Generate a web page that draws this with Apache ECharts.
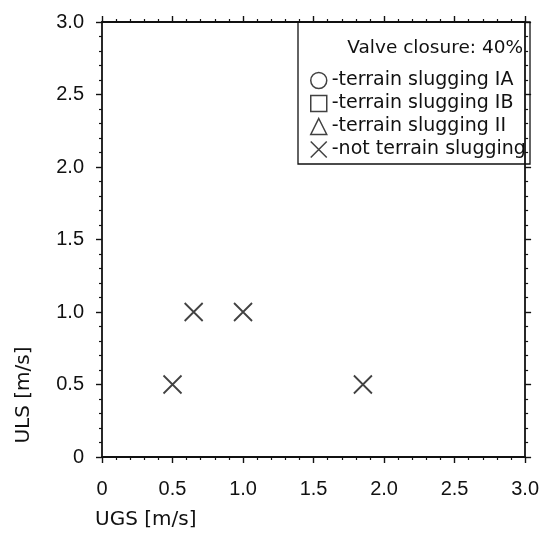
<!DOCTYPE html>
<html>
<head>
<meta charset="utf-8">
<script src="https://cdn.jsdelivr.net/npm/echarts@6/dist/echarts.min.js"></script>
<style>
  html, body { margin: 0; padding: 0; background: #fff; }
  #chart { width: 542px; height: 541px; }
</style>
</head>
<body>
<div id="chart"></div>
<script>
// === DATA ===
const ugsValues = [0.5, 0.65, 1.0, 1.85];
const ulsValues = [0.5, 1.0, 1.0, 0.5];
const xTickLabels = ['0', '0.5', '1.0', '1.5', '2.0', '2.5', '3.0'];
const yTickLabels = ['0', '0.5', '1.0', '1.5', '2.0', '2.5', '3.0'];
const legendNames = [
    '-terrain slugging IA',
    '-terrain slugging IB',
    '-terrain slugging II',
    '-not terrain slugging'
];

// === STYLE ===
const ink = '#111';
const font = 'Liberation Sans';
const wideFont = 'DejaVu Sans';
const crossPath = 'path://M0,0L10,10M0,10L10,0';
const hollow = { color: 'transparent', borderColor: ink, borderWidth: 1.5 };

// === HELPERS ===
function tickLabel(list) {
    return v => list[Math.round(v / 0.5)] || '';
}

function axisBase(position, labels) {
    return {
        type: 'value',
        position: position,
        min: 0,
        max: 3,
        interval: 0.5,
        axisLine: { show: true, onZero: false, lineStyle: { color: ink, width: 1.8 } },
        axisTick: { show: true, inside: false, length: 6, lineStyle: { color: ink, width: 1.4 } },
        minorTick: { show: true, splitNumber: 5, length: 3, lineStyle: { color: ink, width: 1.2 } },
        splitLine: { show: false },
        axisLabel: labels ? {
            show: true,
            formatter: tickLabel(labels),
            fontFamily: font,
            fontSize: 20,
            color: ink
        } : { show: false }
    };
}

// === RENDER ===
const chart = echarts.init(document.getElementById('chart'));

const xBottom = axisBase('bottom', xTickLabels);
xBottom.axisLabel.margin = 22;
xBottom.name = 'UGS [m/s]';
xBottom.nameLocation = 'start';
xBottom.nameGap = 7;
xBottom.nameTextStyle = {
    fontFamily: wideFont, fontSize: 20, color: ink,
    align: 'left', verticalAlign: 'top', padding: [53, 0, 0, 0]
};

const yLeft = axisBase('left', yTickLabels);
yLeft.axisLabel.margin = 18;
yLeft.name = 'ULS [m/s]';
yLeft.nameLocation = 'middle';
yLeft.nameGap = 68;
yLeft.nameTextStyle = {
    fontFamily: wideFont, fontSize: 20, color: ink,
    padding: [0, 311, 0, 0]
};

const emptySymbols = ['circle', 'rect', 'triangle'];

const option = {
    animation: false,
    backgroundColor: '#fff',
    grid: { left: 102, right: 12, top: 22, bottom: 84 },
    title: {
        text: 'Valve closure: 40%',
        right: 19,
        top: 39,
        padding: 0,
        textStyle: { fontFamily: wideFont, fontSize: 18.5, fontWeight: 'normal', color: ink }
    },
    legend: {
        orient: 'vertical',
        left: 310,
        top: 71,
        padding: 0,
        itemWidth: 16,
        itemHeight: 16,
        itemGap: 4,
        textStyle: { fontFamily: wideFont, fontSize: 19, color: ink },
        data: legendNames.map((name, i) => ({
            name: name,
            icon: i < 3 ? emptySymbols[i] : crossPath,
            itemStyle: hollow
        }))
    },
    graphic: [{
        type: 'rect',
        shape: { x: 298, y: 22, width: 232, height: 142 },
        style: { fill: 'none', stroke: ink, lineWidth: 1.3 },
        z: 10
    }],
    xAxis: [xBottom, axisBase('top', null)],
    yAxis: [yLeft, axisBase('right', null)],
    series: [
        ...emptySymbols.map((s, i) => ({
            name: legendNames[i],
            type: 'scatter',
            symbol: s,
            itemStyle: hollow,
            data: []
        })),
        {
            name: legendNames[3],
            type: 'scatter',
            symbol: crossPath,
            symbolSize: 18,
            itemStyle: { color: 'transparent', borderColor: ink, borderWidth: 1.8 },
            data: ugsValues.map((x, i) => [x, ulsValues[i]])
        }
    ]
};

chart.setOption(option);
</script>
</body>
</html>
